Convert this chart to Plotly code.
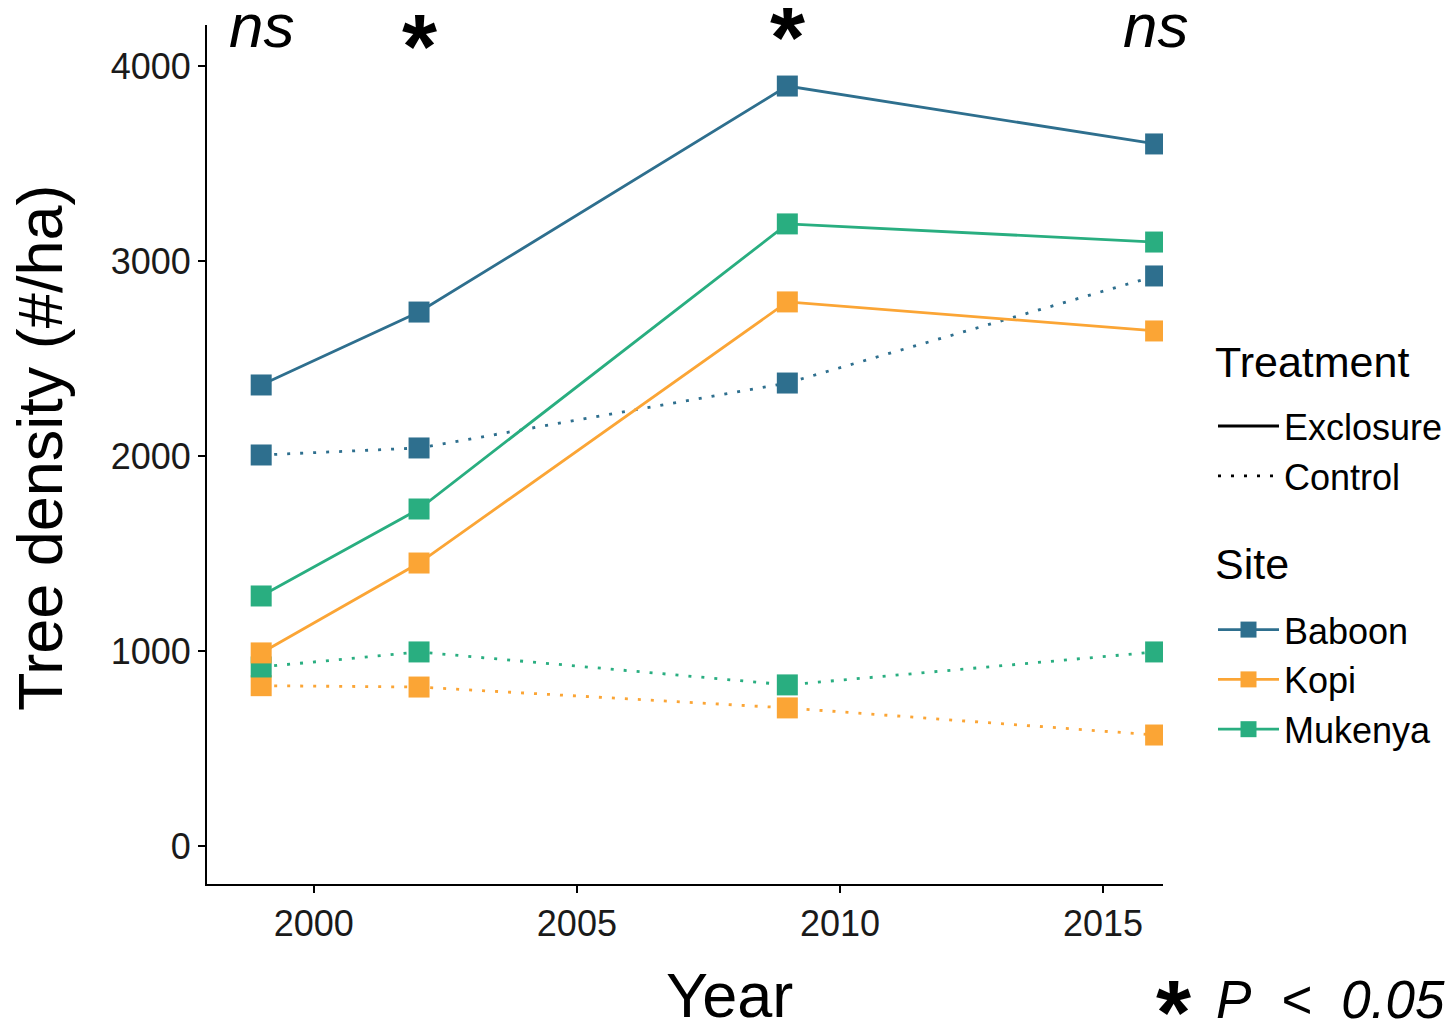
import plotly.graph_objects as go

years = [1999, 2002, 2009, 2016]
sites = ["Baboon", "Kopi", "Mukenya"]
site_colors = {"Baboon": "#2E6F8E", "Kopi": "#FBA535", "Mukenya": "#29AE80"}

exclosure = {
    "Baboon": [2364, 2738, 3897, 3600],
    "Kopi": [990, 1451, 2790, 2641],
    "Mukenya": [1282, 1728, 3190, 3097],
}
control = {
    "Baboon": [2005, 2041, 2374, 2923],
    "Kopi": [822, 815, 708, 569],
    "Mukenya": [918, 995, 826, 995],
}

sig_years = [1999, 2002, 2009, 2016]
sig_labels = ["ns", "*", "*", "ns"]

y_ticks = [0, 1000, 2000, 3000, 4000]
x_ticks = [2000, 2005, 2010, 2015]

FONT = "Arial, Liberation Sans, sans-serif"
DOT = "3px,10px"
LW = 2.8
MS = 21

fig = go.Figure()

for s in sites:
    fig.add_trace(go.Scatter(
        x=years, y=control[s], mode="lines+markers",
        line=dict(color=site_colors[s], width=LW, dash=DOT),
        marker=dict(symbol="square", size=MS, color=site_colors[s]),
        showlegend=False, hoverinfo="x+y"))
for s in sites:
    fig.add_trace(go.Scatter(
        x=years, y=exclosure[s], mode="lines+markers",
        line=dict(color=site_colors[s], width=LW),
        marker=dict(symbol="square", size=MS, color=site_colors[s]),
        showlegend=False, hoverinfo="x+y"))

# legend entries (group titles drawn as text next to the legend)
fig.add_trace(go.Scatter(x=[None], y=[None], mode="lines", name="Exclosure",
                         line=dict(color="black", width=LW), legendgroup="t"))
fig.add_trace(go.Scatter(x=[None], y=[None], mode="lines", name="Control",
                         line=dict(color="black", width=LW, dash=DOT), legendgroup="t"))
for s in sites:
    fig.add_trace(go.Scatter(x=[None], y=[None], mode="lines+markers", name=s,
                             line=dict(color=site_colors[s], width=LW),
                             marker=dict(symbol="square", size=MS, color=site_colors[s]),
                             legendgroup="s"))

LEG_X = 1.0523
star_shift = {2002: -22, 2009: -13}
annotations = []
for yr, lab in zip(sig_years, sig_labels):
    if lab == "ns":
        annotations.append(dict(x=yr, xref="x", y=1.0, yref="paper", text="<i>ns</i>",
                                showarrow=False, yanchor="middle", yshift=0,
                                font=dict(size=62, color="black", family=FONT)))
    else:
        annotations.append(dict(x=yr, xref="x", y=1.0, yref="paper", text="<b>" + lab + "</b>",
                                showarrow=False, yanchor="middle", yshift=star_shift.get(yr, -18),
                                font=dict(size=90, color="black", family=FONT)))
# legend group titles
annotations.append(dict(x=LEG_X, xref="paper", xanchor="left", y=0.6077, yref="paper",
                        yanchor="middle", text="Treatment", showarrow=False,
                        font=dict(size=43, color="black", family=FONT)))
annotations.append(dict(x=LEG_X, xref="paper", xanchor="left", y=0.3725, yref="paper",
                        yanchor="middle", text="Site", showarrow=False,
                        font=dict(size=43, color="black", family=FONT)))
# P-value note
annotations.append(dict(x=1.297, xref="paper", xanchor="right",
                        y=0.0, yref="paper", yanchor="middle", yshift=-115,
                        text="<i>P\u00a0\u00a0&lt;\u00a0\u00a00.05</i>", showarrow=False,
                        font=dict(size=53, color="black", family=FONT)))
annotations.append(dict(x=1.0115, xref="paper", xanchor="center",
                        y=0.0, yref="paper", yanchor="middle", yshift=-129,
                        text="<b>*</b>", showarrow=False,
                        font=dict(size=90, color="black", family=FONT)))
# axis titles
annotations.append(dict(x=0.547, xref="paper", xanchor="center",
                        y=0.0, yref="paper", yanchor="middle", yshift=-111,
                        text="Year", showarrow=False,
                        font=dict(size=63, color="black", family=FONT)))
annotations.append(dict(x=-0.1747, xref="paper", xanchor="center",
                        y=0.5076, yref="paper", yanchor="middle", textangle=-90,
                        text="Tree density (#/ha)", showarrow=False,
                        font=dict(size=63, color="black", family=FONT)))

fig.update_layout(
    width=1439, height=1011,
    margin=dict(l=199, r=284, t=17, b=135, autoexpand=False),
    plot_bgcolor="white", paper_bgcolor="white",
    font=dict(family=FONT, color="black"),
    annotations=annotations,
    legend=dict(x=LEG_X, xanchor="left", y=0.568, yanchor="top",
                font=dict(size=36, color="black", family=FONT),
                tracegroupgap=104, itemwidth=61, bgcolor="rgba(0,0,0,0)"),
    xaxis=dict(range=[1997.97, 2016.14], tickvals=x_ticks,
               showgrid=False, zeroline=False, showline=True, linecolor="black", linewidth=2,
               ticks="outside", ticklen=7, tickwidth=2, tickcolor="black",
               tickfont=dict(size=36, color="#1a1a1a")),
    yaxis=dict(range=[-195, 4210], tickvals=y_ticks,
               showgrid=False, zeroline=False, showline=True, linecolor="black", linewidth=2,
               ticks="outside", ticklen=7, tickwidth=2, tickcolor="black",
               tickfont=dict(size=36, color="#1a1a1a")),
)

fig.write_html("out.html")
